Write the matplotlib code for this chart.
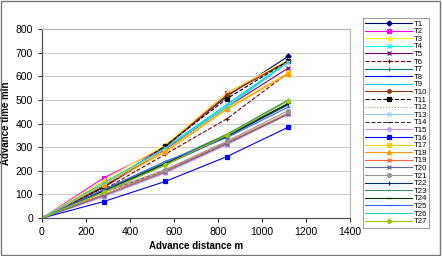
import matplotlib
matplotlib.use("Agg")
import matplotlib.pyplot as plt
from matplotlib.patches import Rectangle

plt.rcParams['font.family'] = ['Liberation Sans', 'DejaVu Sans']

distance = [0, 280, 560, 840, 1120]
labels = [f"T{i}" for i in range(1, 28)]
values = {
    "T1":  [0, 135, 305, 515, 685],
    "T2":  [0, 170, 300, 530, 665],
    "T3":  [0, 160, 310, 530, 670],
    "T4":  [0, 145, 300, 480, 665],
    "T5":  [0, 130, 290, 470, 635],
    "T6":  [0, 120, 270, 420, 615],
    "T7":  [0, 115, 230, 350, 500],
    "T8":  [0, 110, 225, 345, 485],
    "T9":  [0, 140, 295, 480, 660],
    "T10": [0, 130, 300, 520, 665],
    "T11": [0, 130, 305, 505, 665],
    "T12": [0, 100, 200, 320, 440],
    "T13": [0, 140, 295, 470, 660],
    "T14": [0, 110, 200, 315, 440],
    "T15": [0, 90, 190, 310, 440],
    "T16": [0, 70, 155, 260, 385],
    "T17": [0, 150, 285, 465, 615],
    "T18": [0, 140, 280, 460, 610],
    "T19": [0, 100, 200, 320, 445],
    "T20": [0, 95, 195, 315, 440],
    "T21": [0, 110, 205, 325, 455],
    "T22": [0, 115, 230, 345, 480],
    "T23": [0, 120, 235, 355, 500],
    "T24": [0, 115, 230, 350, 485],
    "T25": [0, 120, 240, 340, 470],
    "T26": [0, 150, 295, 470, 660],
    "T27": [0, 110, 225, 350, 495],
}
colors = ["#000080", "#ff00ff", "#ffff00", "#00ffff", "#800080", "#800000",
          "#008080", "#0000ff", "#00ccff", "#993300", "#000000", "#cc9966",
          "#99ccff", "#333333", "#cc99ff", "#0000ff", "#ffcc00", "#ff9900",
          "#ff6633", "#666699", "#969696", "#003366", "#339966", "#003300",
          "#3366ff", "#33cccc", "#99cc00"]
styles = ["-", "-", "-", "-", "-", "--", "-", "-", "-", "-", "--", ":",
          "-", "--", "-", "-", "-", "-", "-", "-", "-", "-", "-", "-", "-", "-", "-"]
markers = ["D", "s", "^", "x", "x", "+", "|", "_", "_", "o", "s", "",
           "x", "_", "o", "s", "s", "^", "x", "x", "o", "|", "_", "_", "_", "_", "o"]
msizes = [2.6, 3, 3, 3, 3, 3, 3, 2.5, 2.5, 2.6, 3, 0,
          3, 2.5, 2.6, 3.2, 3, 3, 3, 3, 2.8, 3, 2.5, 2.5, 2.5, 2.5, 2.6]

fig = plt.figure(figsize=(4.42, 2.56), dpi=100)
fig.patches.append(Rectangle((0.002, 0.002), 0.993, 0.996, transform=fig.transFigure,
                             fill=False, edgecolor="#777777", linewidth=1.0))
ax = fig.add_axes([0.095, 0.148, 0.697, 0.739])

for lab, c, ls, mk, ms in zip(labels, colors, styles, markers, msizes):
    ax.plot(distance, values[lab], color=c, linestyle=ls, marker=mk, markersize=ms,
            linewidth=0.8, label=lab, markeredgewidth=0.9)

ax.set_xlim(0, 1400)
ax.set_ylim(0, 800)
ax.set_xticks(range(0, 1401, 200))
ax.set_yticks(range(0, 801, 100))
ax.tick_params(labelsize=7.5, length=3, width=0.8, colors="#333333", labelcolor="black")
ax.grid(axis="y", color="#cccccc", linewidth=0.8)
ax.set_axisbelow(True)
for s in ["left", "bottom"]:
    ax.spines[s].set_color("#555555")
    ax.spines[s].set_linewidth(0.9)
for s in ["top", "right"]:
    ax.spines[s].set_color("#bbbbbb")
    ax.spines[s].set_linewidth(0.9)
ax.set_xlabel("Advance distance m", fontsize=7, fontweight="bold", labelpad=3)
ax.set_ylabel("Advance time min", fontsize=7, fontweight="bold", labelpad=3)

leg = fig.legend(loc="upper left", bbox_to_anchor=(0.821, 0.93), fontsize=5.6,
                 labelspacing=0.02, handlelength=6.0, handletextpad=0.2,
                 borderpad=0.3, borderaxespad=0, frameon=True, fancybox=False)
leg.get_frame().set_edgecolor("#888888")
leg.get_frame().set_linewidth(0.8)

fig.savefig("out.png", dpi=100)
